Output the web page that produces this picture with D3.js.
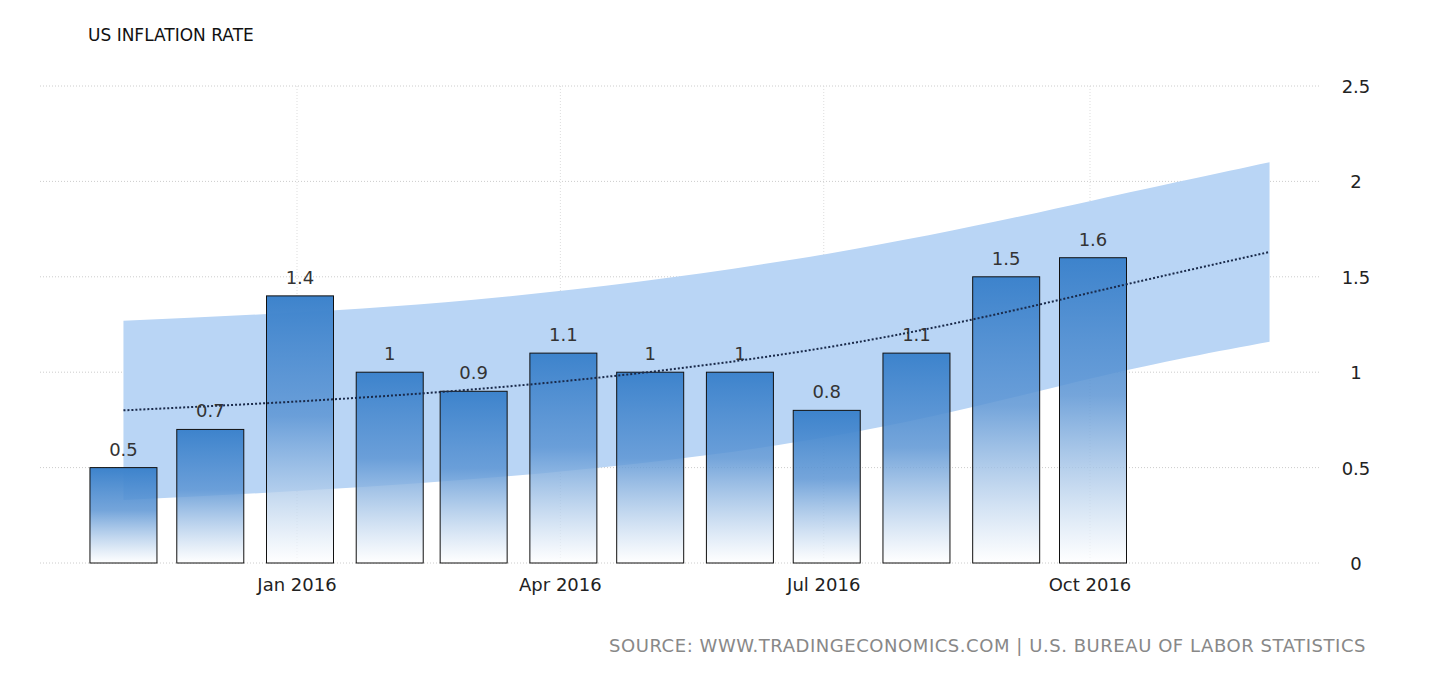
<!DOCTYPE html>
<html><head><meta charset="utf-8">
<script src="https://cdn.jsdelivr.net/npm/d3@7"></script>
<style>body{margin:0;background:#fff;font-family:"DejaVu Sans",sans-serif}</style>
</head><body><svg id="c" width="1436" height="676"></svg>
<script>
const months = ["2015-11","2015-12","2016-01","2016-02","2016-03","2016-04","2016-05","2016-06","2016-07","2016-08","2016-09","2016-10"];
const values = [0.5,0.7,1.4,1.0,0.9,1.1,1.0,1.0,0.8,1.1,1.5,1.6];
const trendMonths = ["2015-11","2016-03","2016-07","2016-10","2016-12"];
const trend = [0.80,0.91,1.13,1.42,1.63];
const upper = [1.27,1.38,1.62,1.90,2.10];
const lower = [0.33,0.44,0.66,0.97,1.16];
const yTicks = [0,0.5,1,1.5,2,2.5];
const xTickDates = ["2016-01","2016-04","2016-07","2016-10"];
const xTickLabels = ["Jan 2016","Apr 2016","Jul 2016","Oct 2016"];

const p = d3.timeParse("%Y-%m");
const svg = d3.select("#c");
const x = d3.scaleTime().domain([p("2016-01"),p("2016-10")]).range([297,1090]);
const y = d3.scaleLinear().domain([0,2.5]).range([563,86]);

const defs = svg.append("defs");
const g = defs.append("linearGradient").attr("id","bg").attr("x1",0).attr("x2",0).attr("y1",0).attr("y2",1);
g.append("stop").attr("offset","0%").attr("stop-color","#3d83cc").attr("stop-opacity",1);
g.append("stop").attr("offset","45%").attr("stop-color","#5c95d4").attr("stop-opacity",0.85);
g.append("stop").attr("offset","100%").attr("stop-color","#ffffff").attr("stop-opacity",0.7);

svg.append("g").selectAll("line").data(yTicks).join("line")
 .attr("x1",40).attr("x2",1320).attr("y1",d=>y(d)).attr("y2",d=>y(d))
 .attr("stroke","#ccc").attr("stroke-dasharray","1,2");
svg.append("g").selectAll("line").data(xTickDates).join("line")
 .attr("x1",d=>x(p(d))).attr("x2",d=>x(p(d))).attr("y1",86).attr("y2",563)
 .attr("stroke","#ddd").attr("stroke-dasharray","1,2");

const tx = trendMonths.map(p);
const area = d3.area().x((d,i)=>x(tx[i])+3).y0((d,i)=>y(lower[i])).y1((d,i)=>y(upper[i])).curve(d3.curveNatural);
svg.append("path").datum(upper).attr("d",area).attr("fill","rgb(185,213,245)");

const bw = 67;
svg.append("g").selectAll("rect").data(values).join("rect")
 .attr("x",(d,i)=>x(p(months[i]))+3-bw/2).attr("width",bw)
 .attr("y",d=>y(d)).attr("height",d=>y(0)-y(d))
 .attr("fill","url(#bg)").attr("stroke","#111").attr("stroke-width",1);

const line = d3.line().x((d,i)=>x(tx[i])+3).y(d=>y(d)).curve(d3.curveNatural);
svg.append("path").datum(trend).attr("d",line).attr("fill","none").attr("stroke","#1a2a4a").attr("stroke-width",2).attr("stroke-dasharray","2,2");

svg.append("g").selectAll("text").data(values).join("text")
 .attr("x",(d,i)=>x(p(months[i]))+3).attr("y",d=>y(d)-12)
 .attr("text-anchor","middle").attr("font-size",18).attr("fill","#333").text(d=>d);

svg.append("g").selectAll("text").data(yTicks).join("text")
 .attr("x",1356).attr("y",d=>y(d)+7).attr("text-anchor","middle").attr("font-size",18).attr("fill","#222").text(d=>d);
svg.append("g").selectAll("text").data(xTickDates).join("text")
 .attr("x",d=>x(p(d))).attr("y",591).attr("text-anchor","middle").attr("font-size",18).attr("fill","#222").text((d,i)=>xTickLabels[i]);

svg.append("text").attr("x",88).attr("y",41).attr("font-size",17).attr("fill","#111").text("US INFLATION RATE");
svg.append("text").attr("x",1366).attr("y",652).attr("text-anchor","end").attr("font-size",18).attr("fill","#888").attr("letter-spacing",0.55)
 .text("SOURCE: WWW.TRADINGECONOMICS.COM | U.S. BUREAU OF LABOR STATISTICS");
</script></body></html>
